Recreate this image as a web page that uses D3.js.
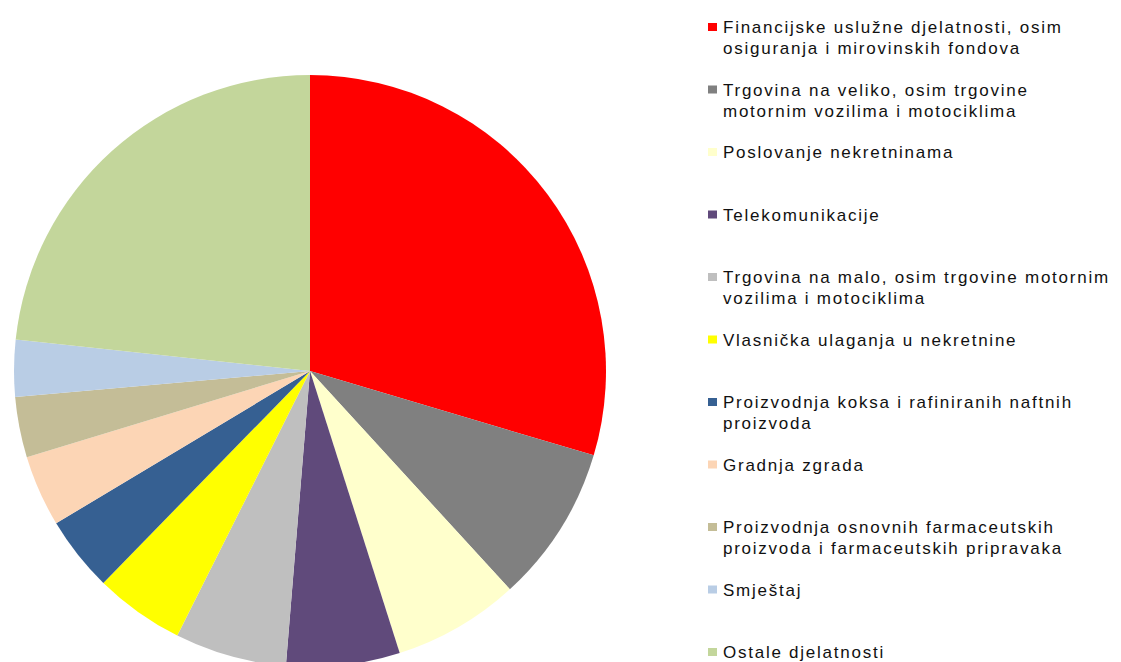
<!DOCTYPE html>
<html>
<head>
<meta charset="utf-8">
<script src="https://cdn.jsdelivr.net/npm/d3@7"></script>
<style>
  body { margin: 0; background: #fff; }
  text { font-family: "Liberation Sans", Arial, sans-serif; }
</style>
</head>
<body>
<div id="chart"></div>
<script>
const categories = [
    "Financijske uslužne djelatnosti, osim osiguranja i mirovinskih fondova",
    "Trgovina na veliko, osim trgovine motornim vozilima i motociklima",
    "Poslovanje nekretninama",
    "Telekomunikacije",
    "Trgovina na malo, osim trgovine motornim vozilima i motociklima",
    "Vlasnička ulaganja u nekretnine",
    "Proizvodnja koksa i rafiniranih naftnih proizvoda",
    "Gradnja zgrada",
    "Proizvodnja osnovnih farmaceutskih proizvoda i farmaceutskih pripravaka",
    "Smještaj",
    "Ostale djelatnosti"
];
// legend lines as wrapped in the original
const legend_lines = [
    ["Financijske uslužne djelatnosti, osim", "osiguranja i mirovinskih fondova"],
    ["Trgovina na veliko, osim trgovine", "motornim vozilima i motociklima"],
    ["Poslovanje nekretninama"],
    ["Telekomunikacije"],
    ["Trgovina na malo, osim trgovine motornim", "vozilima i motociklima"],
    ["Vlasnička ulaganja u nekretnine"],
    ["Proizvodnja koksa i rafiniranih naftnih", "proizvoda"],
    ["Gradnja zgrada"],
    ["Proizvodnja osnovnih farmaceutskih", "proizvoda i farmaceutskih pripravaka"],
    ["Smještaj"],
    ["Ostale djelatnosti"]
];
const shares = [29.6, 8.6, 6.9, 6.2, 6.1, 4.9, 4.1, 3.9, 3.3, 3.1, 23.3];
const colors = ["#ff0000", "#808080", "#ffffcc", "#604a7b", "#bfbfbf", "#ffff00",
                "#366092", "#fcd5b5", "#c4bd97", "#b9cde5", "#c3d69b"];

const svgWidth = 1121;
const svgHeight = 662;
const radius = 296;
const cx = 310, cy = 371;

let mySvg = d3.select("#chart")
    .append("svg")
    .attr("width", svgWidth)
    .attr("height", svgHeight);

const table = categories.map(function (c, i) {
    return {name: c, value: shares[i], color: colors[i], lines: legend_lines[i]};
});

let pie = d3.pie()
    .sort(null)
    .value(function (d) { return d.value; });

let arc = d3.arc()
    .innerRadius(0)
    .outerRadius(radius);

mySvg.append("g")
    .attr("transform", "translate(" + cx + "," + cy + ")")
    .selectAll("path")
    .data(pie(table))
    .enter()
    .append("path")
    .attr("d", arc)
    .attr("fill", function (d) { return d.data.color; });

// legend
const legendY = d3.scalePoint()
    .domain(categories)
    .range([27, 652]);

let legend = mySvg.append("g")
    .selectAll("g")
    .data(table)
    .enter()
    .append("g")
    .attr("transform", function (d) { return "translate(708," + legendY(d.name) + ")"; });

legend.append("rect")
    .attr("x", 0)
    .attr("y", -4)
    .attr("width", 9)
    .attr("height", 8)
    .attr("fill", function (d) { return d.color; });

legend.append("text")
    .attr("x", 15)
    .attr("y", 6)
    .style("font-size", "17px")
    .style("letter-spacing", "1.75px")
    .style("fill", "#111")
    .selectAll("tspan")
    .data(function (d) { return d.lines; })
    .enter()
    .append("tspan")
    .attr("x", 15)
    .attr("dy", function (d, i) { return i === 0 ? 0 : 21; })
    .text(function (d) { return d; });
</script>
</body>
</html>
